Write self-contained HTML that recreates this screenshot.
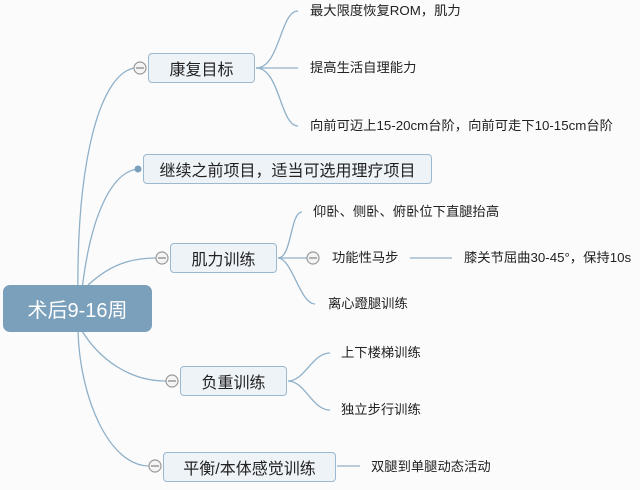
<!DOCTYPE html>
<html><head><meta charset="utf-8"><style>
body{margin:0;width:640px;height:490px;background:#fbfbfc;overflow:hidden;font-family:"Liberation Sans","Noto Sans CJK SC",sans-serif;}
svg{position:absolute;left:0;top:0}
.b{position:absolute;box-sizing:border-box;background:#eef3f8;border:1.5px solid #9ab8d0;border-radius:4px;font-size:16px;color:#222;display:flex;align-items:center;justify-content:center;}
.t{position:absolute;font-size:13.3px;color:#222;line-height:16px;white-space:nowrap}
</style></head><body>
<svg width="640" height="490" fill="none" stroke="#8fb0c8" stroke-width="1.3">
<path d="M78 300 C76 160 100 75 134 68"/>
<path d="M82 290 C90 220 110 172 138 169"/>
<path d="M88 285 C110 265 130 258 156 258"/>
<path d="M82 331 C100 360 130 381 166 381"/>
<path d="M78 331 C80 400 110 466 149 466"/>
<path d="M256 68 C280 68 280 11 298 11"/><path d="M256 68 L298 68"/><path d="M256 68 C280 68 280 126 298 126"/>
<path d="M278 258 C292 258 290 212 302 212"/><path d="M278 258 L307 258"/><path d="M278 258 C292 258 300 304 315 304"/>
<path d="M410 258 L452 258"/>
<path d="M288 381 C305 381 312 353 330 353"/><path d="M288 381 C305 381 312 410 330 410"/>
<path d="M337 466 L360 466"/>
<g stroke="#999" fill="#f4f4f4" stroke-width="1.2">
<circle cx="140" cy="68" r="6"/><circle cx="162" cy="258" r="6"/><circle cx="172" cy="381" r="6"/><circle cx="155" cy="466" r="6"/><circle cx="313" cy="258" r="6"/>
</g>
<g stroke="#888" stroke-width="1.2"><path d="M136 68h8M158 258h8M168 381h8M151 466h8M309 258h8"/></g>
<circle cx="138" cy="169" r="3.5" fill="#7aa0bc" stroke="none"/>
</svg>
<div class="b" style="left:3px;top:285px;width:149px;height:47px;background:#7aa0bc;border:none;border-radius:7px;color:#fff;font-size:20px">术后9-16周</div>
<div class="b" style="left:148px;top:53px;width:107px;height:30px">康复目标</div>
<div class="b" style="left:143px;top:154px;width:289px;height:30px">继续之前项目，适当可选用理疗项目</div>
<div class="b" style="left:170px;top:243px;width:107px;height:30px">肌力训练</div>
<div class="b" style="left:180px;top:366px;width:107px;height:30px">负重训练</div>
<div class="b" style="left:163px;top:452px;width:173px;height:30px">平衡/本体感觉训练</div>
<div class="t" style="left:310px;top:3px">最大限度恢复ROM，肌力</div>
<div class="t" style="left:310px;top:60px">提高生活自理能力</div>
<div class="t" style="left:310px;top:118px">向前可迈上15-20cm台阶，向前可走下10-15cm台阶</div>
<div class="t" style="left:313px;top:204px">仰卧、侧卧、俯卧位下直腿抬高</div>
<div class="t" style="left:332px;top:250px">功能性马步</div>
<div class="t" style="left:464px;top:250px">膝关节屈曲30-45°，保持10s</div>
<div class="t" style="left:328px;top:296px">离心蹬腿训练</div>
<div class="t" style="left:341px;top:345px">上下楼梯训练</div>
<div class="t" style="left:341px;top:402px">独立步行训练</div>
<div class="t" style="left:371px;top:459px">双腿到单腿动态活动</div>
</body></html>
